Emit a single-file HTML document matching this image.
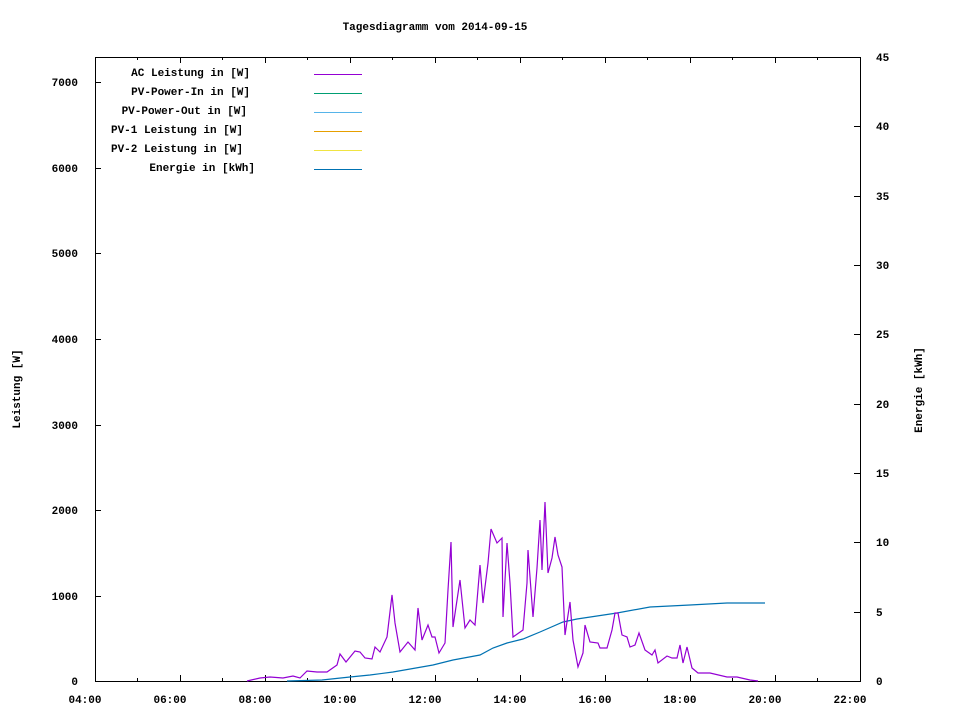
<!DOCTYPE html>
<html><head><meta charset="utf-8"><style>body{margin:0;background:#fff}svg text{font-family:"Liberation Mono",monospace;font-size:11px;font-weight:bold;fill:#000}</style></head><body>
<svg width="960" height="720" xmlns="http://www.w3.org/2000/svg">
<text x="435" y="30" text-anchor="middle">Tagesdiagramm vom 2014-09-15</text>
<g stroke="#000" stroke-width="1" fill="none">
<rect x="95.5" y="57.5" width="765" height="624"/>
<path d="M95 681.5h6M95 596.5h6M95 510.5h6M95 425.5h6M95 339.5h6M95 253.5h6M95 168.5h6M95 82.5h6"/>
<path d="M860 681.5h-6M860 612.5h-6M860 542.5h-6M860 473.5h-6M860 404.5h-6M860 334.5h-6M860 265.5h-6M860 196.5h-6M860 126.5h-6M860 57.5h-6"/>
<path d="M180.5 681v-6M265.5 681v-6M350.5 681v-6M435.5 681v-6M520.5 681v-6M605.5 681v-6M690.5 681v-6M775.5 681v-6M180.5 57v6M265.5 57v6M350.5 57v6M435.5 57v6M520.5 57v6M605.5 57v6M690.5 57v6M775.5 57v6"/>
<path d="M137.5 681v-3M222.5 681v-3M307.5 681v-3M392.5 681v-3M477.5 681v-3M562.5 681v-3M647.5 681v-3M732.5 681v-3M817.5 681v-3M137.5 57v3M222.5 57v3M307.5 57v3M392.5 57v3M477.5 57v3M562.5 57v3M647.5 57v3M732.5 57v3M817.5 57v3"/>
</g>
<g text-anchor="end"><text x="78" y="685">0</text><text x="78" y="600">1000</text><text x="78" y="514">2000</text><text x="78" y="429">3000</text><text x="78" y="343">4000</text><text x="78" y="257">5000</text><text x="78" y="172">6000</text><text x="78" y="86">7000</text></g>
<g><text x="876" y="685">0</text><text x="876" y="616">5</text><text x="876" y="546">10</text><text x="876" y="477">15</text><text x="876" y="408">20</text><text x="876" y="338">25</text><text x="876" y="269">30</text><text x="876" y="200">35</text><text x="876" y="130">40</text><text x="876" y="61">45</text></g>
<g text-anchor="middle"><text x="85" y="703">04:00</text><text x="170" y="703">06:00</text><text x="255" y="703">08:00</text><text x="340" y="703">10:00</text><text x="425" y="703">12:00</text><text x="510" y="703">14:00</text><text x="595" y="703">16:00</text><text x="680" y="703">18:00</text><text x="765" y="703">20:00</text><text x="850" y="703">22:00</text></g>
<text transform="translate(20,389) rotate(-90)" text-anchor="middle">Leistung [W]</text>
<text transform="translate(922,390) rotate(-90)" text-anchor="middle">Energie [kWh]</text>
<g text-anchor="end"><text x="250" y="76">AC Leistung in [W]</text><text x="250" y="95">PV-Power-In in [W]</text><text x="247" y="114">PV-Power-Out in [W]</text><text x="243" y="133">PV-1 Leistung in [W]</text><text x="243" y="152">PV-2 Leistung in [W]</text><text x="255" y="171">Energie in [kWh]</text></g>
<g stroke-width="1"><path d="M314 74.5h48" stroke="#9400d3"/><path d="M314 93.5h48" stroke="#009e73"/><path d="M314 112.5h48" stroke="#56b4e9"/><path d="M314 131.5h48" stroke="#e69f00"/><path d="M314 150.5h48" stroke="#f0e442"/><path d="M314 169.5h48" stroke="#0072b2"/></g>
<polyline fill="none" stroke="#0072b2" stroke-width="1.2" points="287,681 322,680 350,677 370,675 393,672 433,665 453,660 480,655 493,648 507,643 523,639 540,632 563,622 577,619 617,613 650,607 690,605 727,603 765,603"/>
<polyline fill="none" stroke="#9400d3" stroke-width="1.2" points="247,681 260,678 270,677 283,678 293,676 300,678 307,671 317,672 327,672 337,665 340,654 346,662 355,651 360,652 365,658 372,659 375,647 380,652 387,637 392,595 395,623 400,652 408,642 415,650 418,608 422,640 428,625 432,637 435,637 439,653 445,643 448,590 451,542 453,627 460,580 465,628 470,620 475,625 480,565 483,603 488,563 491,529 497,543 502,538 503,617 507,543 510,583 513,637 523,630 527,583 528,550 533,617 537,568 540,520 542,570 545,502 548,573 552,558 555,537 558,555 562,567 563,590 565,635 570,602 573,640 578,667 583,653 585,625 590,642 598,643 600,648 607,648 612,630 615,613 618,613 622,635 627,637 630,647 635,645 639,633 645,650 652,655 655,650 658,663 667,656 672,658 677,658 680,645 683,663 687,647 692,668 698,673 710,673 727,677 737,677 750,680 758,681"/>
</svg>
</body></html>
